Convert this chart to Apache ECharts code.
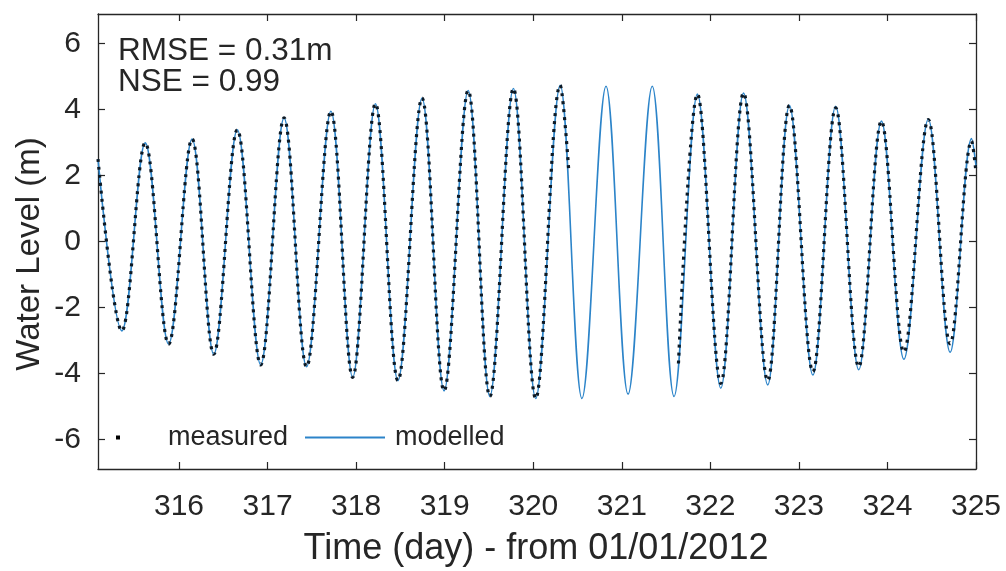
<!DOCTYPE html>
<html>
<head>
<meta charset="utf-8">
<script src="https://cdn.jsdelivr.net/npm/echarts@6/dist/echarts.min.js"></script>
<style>
html,body{margin:0;padding:0;background:#fff;}
#chart{width:1006px;height:571px;}
</style>
</head>
<body>
<div id="chart"></div>
<script>
// ---- data (high / low water turning points) ----
const xTickValues = [316, 317, 318, 319, 320, 321, 322, 323, 324, 325];
const yTickValues = [-6, -4, -2, 0, 2, 4, 6];

const modelledTime = [
  315.085, 315.354, 315.618, 315.882, 316.147, 316.392, 316.658, 316.922, 317.186, 317.440,
  317.715, 317.961, 318.218, 318.472, 318.744, 318.993, 319.265, 319.510, 319.776, 320.028,
  320.304, 320.550, 320.822, 321.071, 321.344, 321.590, 321.854, 322.118, 322.375, 322.648,
  322.893, 323.158, 323.415, 323.676, 323.932, 324.186, 324.461, 324.708, 324.950, 325.000
];
const modelledLevel = [
  2.50, -2.71, 2.99, -3.11, 3.11, -3.42, 3.39, -3.74, 3.75, -3.80,
  3.95, -4.12, 4.18, -4.22, 4.35, -4.53, 4.58, -4.70, 4.64, -4.76,
  4.74, -4.76, 4.71, -4.63, 4.71, -4.70, 4.47, -4.45, 4.50, -4.35,
  4.13, -4.05, 4.10, -3.89, 3.65, -3.57, 3.71, -3.36, 3.12, 2.30
];

const measuredTime = [
  315.085, 315.354, 315.618, 315.882, 316.147, 316.392, 316.658, 316.922, 317.186, 317.440,
  317.715, 317.961, 318.218, 318.472, 318.744, 318.993, 319.265, 319.510, 319.776, 320.028,
  320.304, 320.400, 321.000, 321.640, 321.854, 322.118, 322.375, 322.648, 322.893, 323.158,
  323.415, 323.676, 323.932, 324.186, 324.461, 324.708, 324.950, 325.000
];
const measuredLevel = [
  2.50, -2.71, 2.99, -3.11, 3.11, -3.42, 3.39, -3.74, 3.75, -3.80,
  3.95, -4.12, 4.18, -4.22, 4.35, -4.53, 4.58, -4.70, 4.64, -4.76,
  4.74, 2.20, null, -3.70, 4.47, -4.30, 4.50, -4.22, 4.13, -3.95,
  4.05, -3.80, 3.65, -3.35, 3.70, -3.10, 3.05, 2.10
];

const statsLines = ['RMSE = 0.31m', 'NSE = 0.99'];
const xTitle = 'Time (day) - from 01/01/2012';
const yTitle = 'Water Level (m)';

// ---- chart ----
const modelledData = modelledTime.map((t, i) => [t, modelledLevel[i]]);
const measuredData = measuredTime.map((t, i) => [t, measuredLevel[i] === null ? '-' : measuredLevel[i]]);

const ink = '#262626';
const blue = '#2c84c9';
const font = '"Liberation Sans", Arial, Helvetica, sans-serif';

const chart = echarts.init(document.getElementById('chart'), null, {renderer: 'canvas'});

function xAxisDef(pos, labels) {
  return {
    type: 'value', position: pos, min: 315.085, max: 325,
    axisLine: {show: true, onZero: false, lineStyle: {color: ink, width: 1.3}},
    axisTick: {show: true, inside: true, length: 7, customValues: xTickValues, lineStyle: {color: ink, width: 1.2}},
    axisLabel: {show: labels, customValues: xTickValues, showMinLabel: true, showMaxLabel: true,
      fontFamily: font, fontSize: 30, color: ink, margin: 23},
    splitLine: {show: false}
  };
}
function yAxisDef(pos, labels) {
  return {
    type: 'value', position: pos, min: -6.9, max: 6.9,
    axisLine: {show: true, onZero: false, lineStyle: {color: ink, width: 1.3}},
    axisTick: {show: true, inside: true, length: 7, customValues: yTickValues, lineStyle: {color: ink, width: 1.2}},
    axisLabel: {show: labels, customValues: yTickValues, showMinLabel: true, showMaxLabel: true,
      fontFamily: font, fontSize: 30, color: ink, margin: 17},
    splitLine: {show: false}
  };
}

const legendText = {fontFamily: font, fontSize: 27, color: ink};

chart.setOption({
  animation: false,
  backgroundColor: '#ffffff',
  grid: {left: 98, right: 30, top: 14, bottom: 102, containLabel: false},
  xAxis: [xAxisDef('bottom', true), xAxisDef('top', false)],
  yAxis: [yAxisDef('left', true), yAxisDef('right', false)],
  legend: [
    {
      left: 116, top: 424, padding: 0, itemWidth: 4, itemHeight: 4, selectedMode: false,
      textStyle: Object.assign({padding: [0, 0, 0, 43]}, legendText),
      data: [{name: 'measured', icon: 'rect', itemStyle: {color: '#000000'}}]
    },
    {
      left: 305, top: 424, padding: 0, itemWidth: 80, itemHeight: 2, selectedMode: false,
      textStyle: Object.assign({padding: [0, 0, 0, 5]}, legendText),
      data: [{name: 'modelled', icon: 'rect', itemStyle: {color: blue}}]
    }
  ],
  series: [
    {
      name: 'modelled', type: 'line', xAxisIndex: 0, yAxisIndex: 0,
      data: modelledData, smooth: 0.36, symbol: 'none', showSymbol: false,
      lineStyle: {color: blue, width: 1.6}, itemStyle: {color: blue}, z: 2
    },
    {
      name: 'measured', type: 'line', xAxisIndex: 0, yAxisIndex: 0,
      data: measuredData, smooth: 0.36, symbol: 'none', showSymbol: false, connectNulls: false,
      lineStyle: {color: '#0c1925', width: 3.2, type: [3, 5], cap: 'butt'}, itemStyle: {color: '#000000'}, z: 3
    }
  ],
  graphic: [
    {type: 'text', x: 118, y: 51, style: {text: statsLines[0], font: '31.5px ' + font, fill: ink, verticalAlign: 'middle'}},
    {type: 'text', x: 118, y: 82, style: {text: statsLines[1], font: '31.5px ' + font, fill: ink, verticalAlign: 'middle'}},
    {type: 'text', x: 536, y: 549, style: {text: xTitle, font: '36px ' + font, fill: ink, align: 'center', verticalAlign: 'middle'}},
    {type: 'text', x: 30, y: 254, rotation: Math.PI / 2, style: {text: yTitle, font: '33px ' + font, fill: ink, align: 'center', verticalAlign: 'middle'}}
  ]
});
</script>
</body>
</html>
